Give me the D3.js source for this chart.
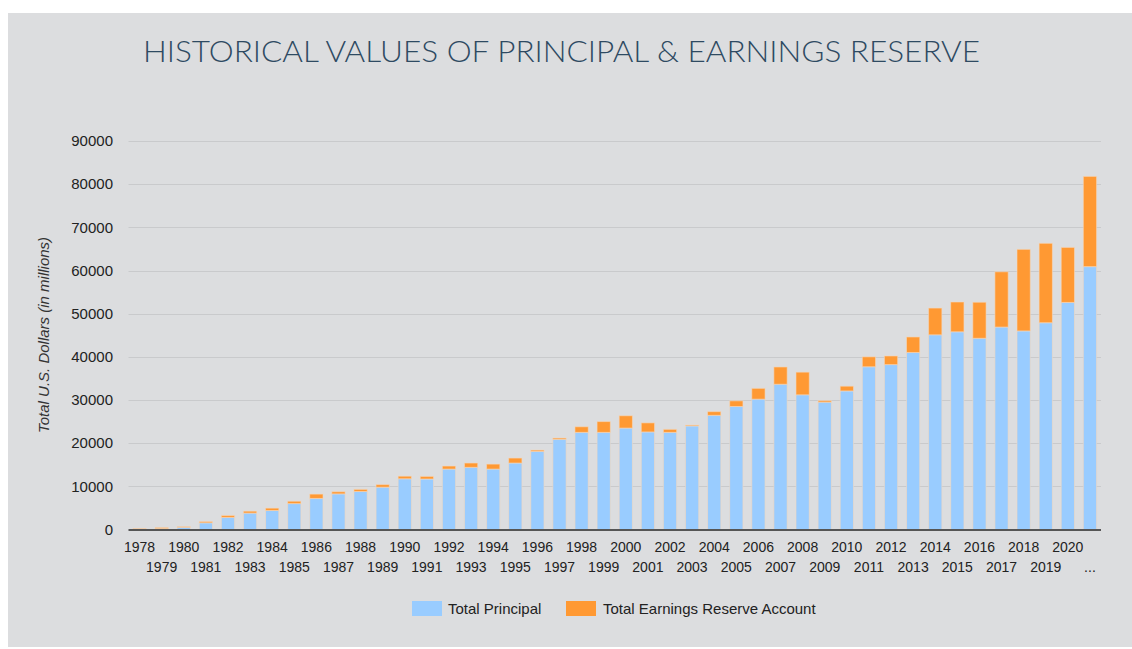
<!DOCTYPE html>
<html>
<head>
<meta charset="utf-8">
<script src="https://cdn.jsdelivr.net/npm/d3@7"></script>
<style>
  html, body { margin: 0; padding: 0; background: #ffffff; }
  svg { display: block; }
</style>
</head>
<body>
<svg id="chart" width="1132" height="649"></svg>
<script>
const years = [1978,1979,1980,1981,1982,1983,1984,1985,1986,1987,1988,1989,1990,1991,1992,1993,1994,1995,1996,1997,1998,1999,2000,2001,2002,2003,2004,2005,2006,2007,2008,2009,2010,2011,2012,2013,2014,2015,2016,2017,2018,2019,2020,2021];
const xLabels = ["1978","1979","1980","1981","1982","1983","1984","1985","1986","1987","1988","1989","1990","1991","1992","1993","1994","1995","1996","1997","1998","1999","2000","2001","2002","2003","2004","2005","2006","2007","2008","2009","2010","2011","2012","2013","2014","2015","2016","2017","2018","2019","2020","..."];
const principal = [50,200,500,1550,2800,3800,4400,6000,7200,8250,8800,9800,11750,11700,14000,14400,14000,15400,18100,20900,22500,22500,23500,22600,22500,24000,26450,28500,30200,33650,31200,29500,32100,37700,38200,41000,45100,45800,44300,46900,46000,47900,52600,60900];
const earnings = [150,250,150,300,450,450,550,550,1000,500,500,600,600,600,700,1000,1150,1150,300,300,1300,2500,2850,2100,700,200,850,1300,2500,4000,5250,350,1100,2300,2000,3600,6200,6900,8350,12800,18900,18400,12750,20900];
const yTicks = [0,10000,20000,30000,40000,50000,60000,70000,80000,90000];
const seriesNames = ["Total Principal", "Total Earnings Reserve Account"];
const seriesColors = ["#99ccff", "#ff9933"];

const svg = d3.select("#chart");
const W = 1132, H = 649;

// panel background
svg.append("rect").attr("x", 8).attr("y", 13).attr("width", W - 8).attr("height", 634).attr("fill", "#dcdddf");

const m = { left: 128.5, right: 1101, top: 141, bottom: 529.5 };

const x = d3.scaleBand().domain(years).range([m.left, m.right]).paddingInner(0.4).paddingOuter(0.2);
const y = d3.scaleLinear().domain([0, 90000]).range([m.bottom, m.top]);

// title
svg.append("text")
  .attr("x", 143).attr("y", 62)
  .attr("font-family", "Lato, 'Open Sans', sans-serif")
  .attr("font-size", 30)
  .attr("font-weight", 300)
  .attr("fill", "#2e4a62")
  .attr("textLength", 837)
  .attr("lengthAdjust", "spacingAndGlyphs")
  .text("HISTORICAL VALUES OF PRINCIPAL & EARNINGS RESERVE");

// gridlines
svg.append("g").selectAll("line").data(yTicks.filter(d => d > 0)).join("line")
  .attr("x1", m.left).attr("x2", m.right)
  .attr("y1", d => Math.round(y(d)) + 0.5).attr("y2", d => Math.round(y(d)) + 0.5)
  .attr("stroke", "#c9cacc").attr("stroke-width", 1);

// y axis labels
const yAxis = d3.axisLeft(y).tickValues(yTicks).tickSize(0).tickPadding(0).tickFormat(d3.format("d"));
const yg = svg.append("g").attr("transform", `translate(113,0)`).call(yAxis);
yg.select(".domain").remove();
yg.selectAll("text").attr("font-family", "Arial, 'Liberation Sans', sans-serif").attr("font-size", 15).attr("fill", "#222");

// y axis title
svg.append("text")
  .attr("transform", `translate(49,335) rotate(-90)`)
  .attr("text-anchor", "middle")
  .attr("font-family", "Arial, 'Liberation Sans', sans-serif")
  .attr("font-style", "italic")
  .attr("font-size", 15)
  .attr("fill", "#333")
  .text("Total U.S. Dollars (in millions)");

// stacked data
const rows = years.map((yr, i) => ({ year: yr, p: principal[i], e: earnings[i] }));
const stack = d3.stack().keys(["p", "e"])(rows);

const bars = svg.append("g");
stack.forEach((layer, li) => {
  bars.append("g").selectAll("rect").data(layer).join("rect")
    .attr("x", d => x(d.data.year))
    .attr("width", x.bandwidth())
    .attr("y", d => y(d[1]))
    .attr("height", d => Math.max(0, y(d[0]) - y(d[1])))
    .attr("fill", seriesColors[li])
    .attr("stroke", "#f3d9bf")
    .attr("stroke-opacity", 0.6)
    .attr("stroke-width", 1);
});

// baseline
svg.append("line").attr("x1", m.left).attr("x2", m.right)
  .attr("y1", m.bottom + 0.5).attr("y2", m.bottom + 0.5)
  .attr("stroke", "#555").attr("stroke-width", 2);

// x labels, two rows
const xg = svg.append("g");
xg.selectAll("text").data(years).join("text")
  .attr("x", d => x(d) + x.bandwidth() / 2)
  .attr("y", (d, i) => i % 2 === 0 ? 552 : 572)
  .attr("text-anchor", "middle")
  .attr("font-family", "Arial, 'Liberation Sans', sans-serif")
  .attr("font-size", 14)
  .attr("fill", "#222")
  .text((d, i) => xLabels[i]);

// legend
const legendItems = [{ x: 412, tx: 448 }, { x: 566, tx: 603 }];
legendItems.forEach((it, i) => {
  svg.append("rect").attr("x", it.x).attr("y", 601).attr("width", 30).attr("height", 15).attr("fill", seriesColors[i]);
  svg.append("text").attr("x", it.tx).attr("y", 614)
    .attr("font-family", "Arial, 'Liberation Sans', sans-serif")
    .attr("font-size", 15).attr("fill", "#222")
    .text(seriesNames[i]);
});
</script>
</body>
</html>
